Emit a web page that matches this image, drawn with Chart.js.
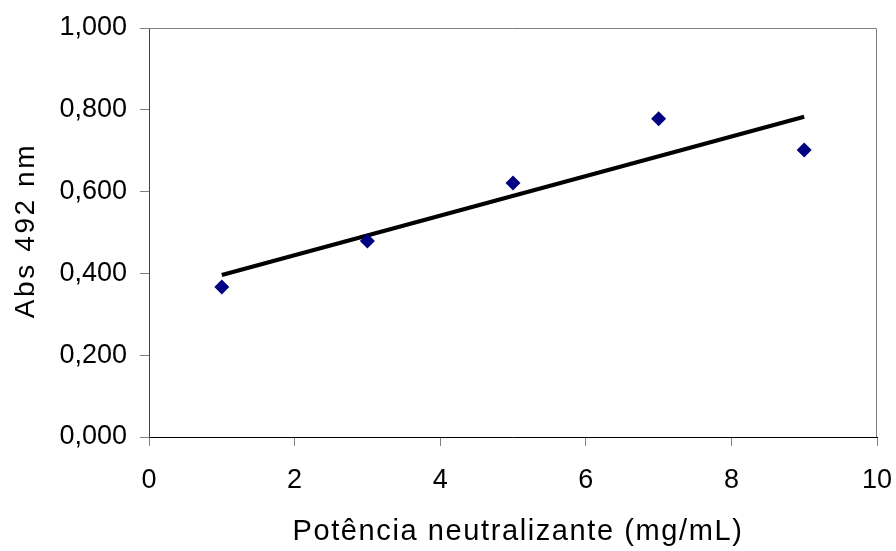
<!DOCTYPE html>
<html>
<head>
<meta charset="utf-8">
<script src="https://cdn.jsdelivr.net/npm/chart.js@4"></script>
<style>
  body { margin: 0; background: #fff; }
  #wrap { width: 896px; height: 551px; }
</style>
</head>
<body>
<div id="wrap"><canvas id="grafico" width="896" height="551"></canvas></div>
<script>
// datos
const potencias = [1, 3, 5, 7, 9];
const absorbancias = [0.367, 0.479, 0.621, 0.778, 0.702];
const tendenciaX = [1, 9];
const tendenciaY = [0.396, 0.783];
const tituloX = 'Potência neutralizante (mg/mL)';
const tituloY = 'Abs 492 nm';

const puntos = potencias.map((x, i) => ({ x: x, y: absorbancias[i] }));
const tendencia = tendenciaX.map((x, i) => ({ x: x, y: tendenciaY[i] }));

const fuente = '"Liberation Sans", Arial, sans-serif';

// borde del área de trazado (arriba y derecha) y títulos de los ejes
const bordePlugin = {
    id: 'borde',
    afterDraw(chart) {
        const a = chart.chartArea;
        const c = chart.ctx;
        c.save();
        c.strokeStyle = '#808080';
        c.lineWidth = 1;
        c.beginPath();
        c.moveTo(a.left, a.top + 0.5);
        c.lineTo(a.right - 0.5, a.top + 0.5);
        c.lineTo(a.right - 0.5, a.bottom);
        c.stroke();

        // títulos de los ejes
        c.fillStyle = '#000';
        c.textAlign = 'center';
        c.textBaseline = 'alphabetic';
        c.font = '29px ' + fuente;
        c.letterSpacing = '1.6px';
        c.fillText(tituloX, (a.left + a.right) / 2 + 5, 540);

        c.translate(34, (a.top + a.bottom) / 2 - 2);
        c.rotate(-Math.PI / 2);
        c.font = '28px ' + fuente;
        c.letterSpacing = '2.6px';
        c.fillText(tituloY, 0, 0);
        c.restore();
    }
};

new Chart(document.getElementById('grafico').getContext('2d'), {
    type: 'scatter',
    data: {
        datasets: [
            {
                label: 'Tendencia',
                data: tendencia,
                showLine: true,
                borderColor: '#000000',
                borderWidth: 4,
                pointRadius: 0,
                order: 2
            },
            {
                label: 'Abs',
                data: puntos,
                pointStyle: 'rectRot',
                pointRadius: 7.5,
                backgroundColor: '#000080',
                borderColor: '#000080',
                borderWidth: 0,
                order: 1
            }
        ]
    },
    options: {
        responsive: false,
        animation: false,
        layout: { padding: { top: 28, right: 19, left: 0, bottom: 0 } },
        plugins: {
            legend: { display: false },
            tooltip: { enabled: false }
        },
        scales: {
            x: {
                type: 'linear',
                min: 0,
                max: 10,
                ticks: {
                    stepSize: 2,
                    color: '#000',
                    padding: 18,
                    font: { family: fuente, size: 27 }
                },
                grid: { drawOnChartArea: false, tickLength: 9, color: '#808080' },
                border: { color: '#000000' },
                afterFit(scale) {
                    scale.height = 114;
                    scale.paddingRight = 0;
                    scale.paddingLeft = 0;
                }
            },
            y: {
                min: 0,
                max: 1,
                ticks: {
                    stepSize: 0.2,
                    color: '#000',
                    padding: 13,
                    font: { family: fuente, size: 27 },
                    callback: (v) => v.toFixed(3).replace('.', ',')
                },
                grid: { drawOnChartArea: false, tickLength: 9, color: '#808080' },
                border: { color: '#404040' },
                afterFit(scale) {
                    scale.width = 149;
                    scale.paddingTop = 0;
                    scale.paddingBottom = 0;
                }
            }
        }
    },
    plugins: [bordePlugin]
});
</script>
</body>
</html>
